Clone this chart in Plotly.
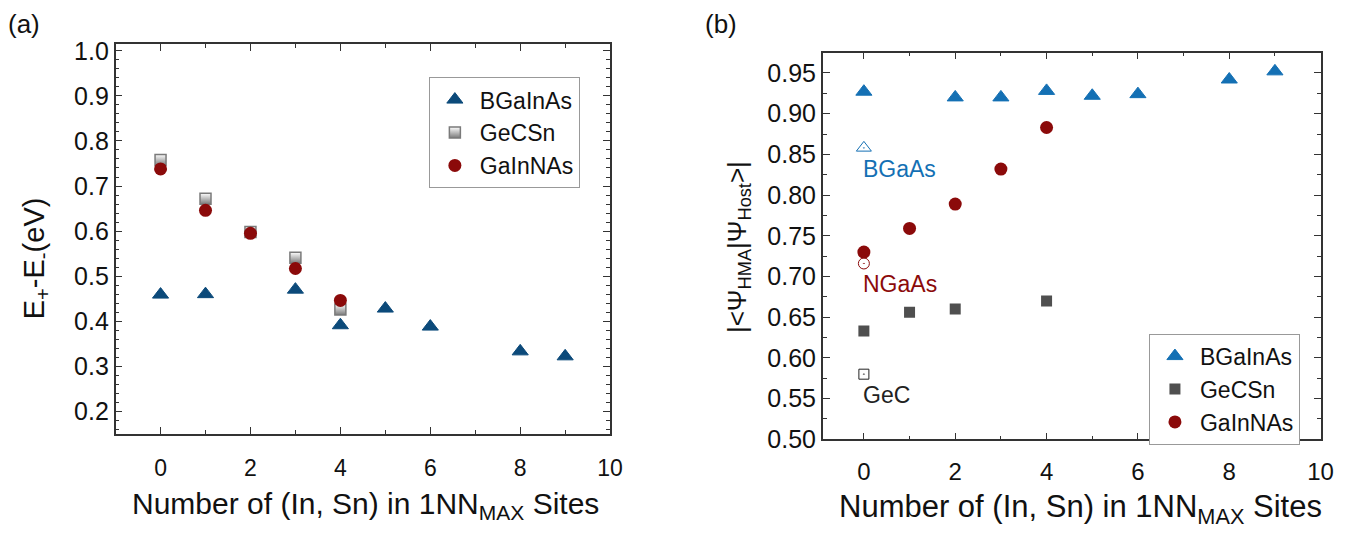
import plotly.graph_objects as go

# ---------------- data ----------------
# Panel (a): E+ - E- (eV)
a_bgainas_x = [0, 1, 3, 4, 5, 6, 8, 9]
a_bgainas_y = [0.459, 0.460, 0.470, 0.391, 0.428, 0.388, 0.333, 0.322]
a_gecsn_x = [0, 1, 2, 3, 4]
a_gecsn_y = [0.758, 0.672, 0.598, 0.541, 0.426]
a_gainnas_x = [0, 1, 2, 3, 4]
a_gainnas_y = [0.738, 0.646, 0.595, 0.517, 0.446]

# Panel (b): |<Psi_HMA|Psi_Host>|
b_bgainas_x = [0, 2, 3, 4, 5, 6, 8, 9]
b_bgainas_y = [0.927, 0.920, 0.920, 0.928, 0.922, 0.924, 0.942, 0.952]
b_gecsn_x = [0, 1, 2, 4]
b_gecsn_y = [0.633, 0.656, 0.660, 0.670]
b_gainnas_x = [0, 1, 2, 3, 4]
b_gainnas_y = [0.730, 0.759, 0.789, 0.832, 0.883]
ref_names = ["BGaAs", "NGaAs", "GeC"]
ref_x = [0, 0, 0]
ref_y = [0.858, 0.716, 0.580]

FONT = "Arial, Liberation Sans, sans-serif"
NAVY = "#0c4a7a"
BLUE = "#1470b4"
RED = "#8b0a0a"
GRAY = "#7a7a7a"
DGRAY = "#4f4f4f"
INK = "#111111"

fig = go.Figure()

# ---- panel (a) ----
fig.add_trace(go.Scatter(x=a_bgainas_x, y=a_bgainas_y, mode="markers", name="BGaInAs",
                         marker=dict(symbol="triangle-up", size=14, color=NAVY,
                                     line=dict(color=NAVY, width=1)),
                         xaxis="x", yaxis="y", legend="legend"))
fig.add_trace(go.Scatter(x=a_gecsn_x, y=a_gecsn_y, mode="markers", name="GeCSn",
                         marker=dict(symbol="square", size=11, color="white",
                                     gradient=dict(type="vertical", color=GRAY),
                                     line=dict(color=GRAY, width=1.5)),
                         xaxis="x", yaxis="y", legend="legend"))
fig.add_trace(go.Scatter(x=a_gainnas_x, y=a_gainnas_y, mode="markers", name="GaInNAs",
                         marker=dict(symbol="circle", size=13, color=RED),
                         xaxis="x", yaxis="y", legend="legend"))

# ---- panel (b) ----
fig.add_trace(go.Scatter(x=b_bgainas_x, y=b_bgainas_y, mode="markers", name="BGaInAs",
                         marker=dict(symbol="triangle-up", size=14, color=BLUE,
                                     line=dict(color=BLUE, width=1)),
                         xaxis="x2", yaxis="y2", legend="legend2"))
fig.add_trace(go.Scatter(x=b_gecsn_x, y=b_gecsn_y, mode="markers", name="GeCSn",
                         marker=dict(symbol="square", size=11, color=DGRAY),
                         xaxis="x2", yaxis="y2", legend="legend2"))
fig.add_trace(go.Scatter(x=b_gainnas_x, y=b_gainnas_y, mode="markers", name="GaInNAs",
                         marker=dict(symbol="circle", size=13, color=RED),
                         xaxis="x2", yaxis="y2", legend="legend2"))
ref_colors = [BLUE, RED, "#222222"]
ref_symbols = ["triangle-up-open-dot", "circle-open-dot", "square-open-dot"]
ref_sizes = [13, 11, 10]
for nm, xx, yy, c, s, sz in zip(ref_names, ref_x, ref_y, ref_colors, ref_symbols, ref_sizes):
    fig.add_trace(go.Scatter(x=[xx], y=[yy], mode="markers", name=nm, showlegend=False,
                             marker=dict(symbol=s, size=sz, color=c, line=dict(color=c, width=1)),
                             xaxis="x2", yaxis="y2"))

W, H = 1364, 534
def axis_common(fs, standoff=None):
    d = dict(showline=True, linecolor="#333333", linewidth=1.5, mirror="allticks",
             ticks="inside", ticklen=7, tickwidth=1.2, tickcolor="#333333",
             showgrid=False, zeroline=False,
             tickfont=dict(family=FONT, size=fs, color=INK))
    if standoff is not None:
        d["ticklabelstandoff"] = standoff
    return d

minor_style = dict(ticks="inside", ticklen=4, tickcolor="#333333", tickwidth=1)

fig.update_layout(
    width=W, height=H,
    margin=dict(l=0, r=0, t=0, b=0),
    paper_bgcolor="white", plot_bgcolor="white",
    font=dict(family=FONT, color=INK),
    xaxis=dict(domain=[116.7 / W, 616 / W], anchor="y", range=[-1, 10], dtick=2, tick0=0,
               minor=dict(dtick=1, **minor_style), **axis_common(23, 13)),
    yaxis=dict(domain=[1 - 444.3 / H, 1 - 38.6 / H], anchor="x", range=[0.15, 1.015],
               dtick=0.1, tick0=0, tickformat=".1f",
               minor=dict(dtick=0.02, **minor_style), **axis_common(25)),
    xaxis2=dict(domain=[830.7 / W, 1333.3 / W], anchor="y2", range=[-0.9, 10], dtick=2, tick0=0,
                minor=dict(dtick=1, **minor_style), **axis_common(24, 10)),
    yaxis2=dict(domain=[1 - 450 / H, 1 - 47.5 / H], anchor="x2", range=[0.5, 0.975],
                dtick=0.05, tick0=0, tickformat=".2f",
                minor=dict(dtick=0.025, **minor_style), **axis_common(25)),
    legend=dict(x=433 / W, y=1 - 73 / H, xanchor="left", yanchor="top", itemwidth=40,
                bordercolor="#999999", borderwidth=1, bgcolor="white",
                font=dict(family=FONT, size=23, color=INK)),
    legend2=dict(x=1160 / W, y=1 - 340 / H, xanchor="left", yanchor="top", itemwidth=40,
                 bordercolor="#999999", borderwidth=1, bgcolor="white",
                 font=dict(family=FONT, size=23, color=INK)),
    showlegend=True,
)

def pann(text, x, y, size, angle=0):
    return dict(text=text, x=x / W, y=1 - y / H, xref="paper", yref="paper",
                xanchor="center", yanchor="middle", showarrow=False, textangle=angle,
                font=dict(family=FONT, size=size, color=INK))

ann = [
    pann("(a)", 24, 18, 26),
    pann("(b)", 728, 18, 26),
    pann("Number of (In, Sn) in 1NN<sub>MAX</sub> Sites", 369, 519, 30),
    pann("Number of (In, Sn) in 1NN<sub>MAX</sub> Sites", 1091, 523, 31),
    pann("E<sub>+</sub>-E<sub>-</sub>(eV)", 36, 262, 29, -90),
    pann("|&lt;Ψ<sub>HMA</sub>|Ψ<sub>Host</sub>&gt;|", 745, 250, 26, -90),
]
for nm, xx, yy, c in zip(ref_names, ref_x, ref_y, ref_colors):
    ann.append(dict(text=nm, x=xx, y=yy, xref="x2", yref="y2", xanchor="left",
                    yanchor="middle", xshift=-3, yshift=-21, showarrow=False,
                    font=dict(family=FONT, size=23, color=c)))
fig.update_layout(annotations=ann)

fig.write_html("out.html")
